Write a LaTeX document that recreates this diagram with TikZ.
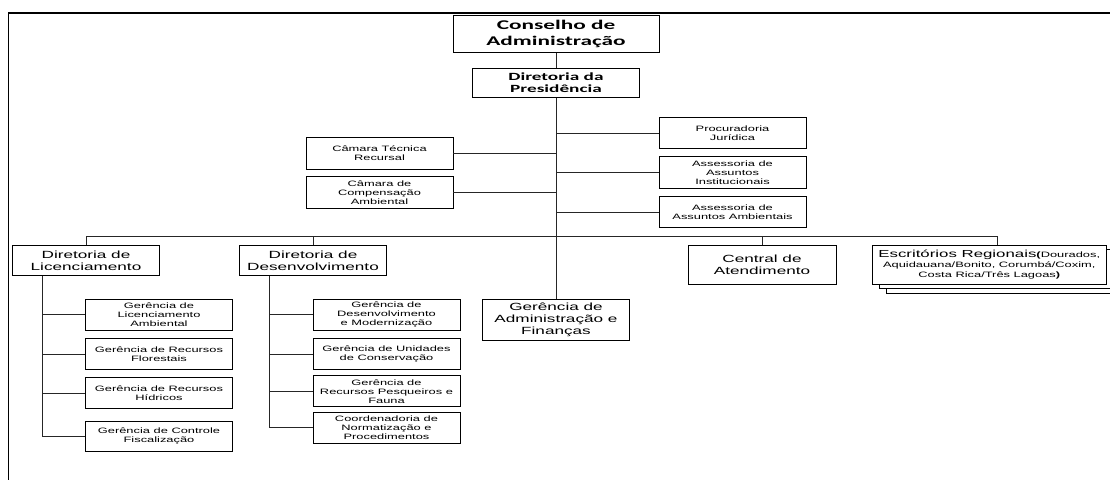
\documentclass[tikz,border=0pt]{standalone}
\usepackage{fontspec}
\setmainfont{Liberation Sans}[FakeStretch=1.65]
\newfontfamily\titlefont{Carlito}[FakeStretch=1.75]
\begin{document}
\begin{tikzpicture}[x=1pt,y=-1pt]
\tikzset{
  box/.style={draw=black, line width=0.9pt, fill=white, align=center, inner sep=1pt, text=black},
  sbox/.style={box, minimum width=147pt, minimum height=31pt, font=\fontsize{7.8}{9}\selectfont},
  mbox/.style={box, minimum width=147pt, font=\fontsize{10.4}{12}\selectfont},
  tbox/.style={box, font=\titlefont\bfseries},
  conn/.style={line width=0.8pt, draw=black!85},
}
\useasboundingbox (0,0) rectangle (1110,479);
\clip (0,0) rectangle (1110,479);
% frame
\draw[line width=1.5pt] (8.5,481) -- (8.5,13) -- (1112,13);

% top
\node[tbox, minimum width=206pt, minimum height=37pt, font=\titlefont\bfseries\fontsize{13.3}{16}\selectfont] (cons) at (556,34) {Conselho de\\Administração};
\node[tbox, minimum width=166.5pt, minimum height=29.5pt, font=\titlefont\bfseries\fontsize{11}{12.3}\selectfont] (pres) at (556,83) {Diretoria da\\Presidência};

% staff
\node[sbox, minimum height=31.6pt] (camT) at (379.5,153.5) {Câmara Técnica\\Recursal};
\node[sbox, minimum height=31.6pt] (camC) at (379.5,192.5) {Câmara de\\Compensação\\Ambiental};
\node[sbox] (proc) at (732.5,133.2) {Procuradoria\\Jurídica};
\node[sbox, minimum height=31.6pt] (aai) at (732.5,172.5) {Assessoria de\\Assuntos\\Institucionais};
\node[sbox, minimum height=31.6pt] (aaa) at (732.5,211.9) {Assessoria de\\Assuntos Ambientais};

% directorates
\node[mbox, minimum height=29.3pt] (dlic) at (86,260.4) {Diretoria de\\Licenciamento};
\node[mbox, minimum height=29.3pt] (ddes) at (313,260.4) {Diretoria de\\Desenvolvimento};
\node[mbox, minimum height=40.7pt] (gadm) at (556,319.7) {Gerência de\\Administração e\\Finanças};
\node[mbox, minimum width=148pt, minimum height=38.3pt] (cent) at (762,264.9) {Central de\\Atendimento};

% regional offices (stacked)
\node[box, minimum width=233.5pt, minimum height=39pt] (escrC) at (1003.25,273.5) {};
\node[box, minimum width=233.5pt, minimum height=39pt] (escrB) at (996.25,269) {};
\node[box, minimum width=233.5pt, minimum height=39pt, font=\fontsize{7.8}{10}\selectfont] (escr) at (989.25,264.5)
  {{\fontsize{10.2}{10}\selectfont Escritórios Regionais}\textbf{(}Dourados,\\Aquidauana/Bonito, Corumbá/Coxim,\\Costa Rica/Três Lagoas\textbf{)}};

% licenciamento subunits
\node[sbox, minimum height=30.7pt] (gl1) at (159,314.7) {Gerência de\\Licenciamento\\Ambiental};
\node[sbox, minimum height=30.6pt] (gl2) at (159,354) {Gerência de Recursos\\Florestais};
\node[sbox, minimum height=30.6pt] (gl3) at (159,393) {Gerência de Recursos\\Hídricos};
\node[sbox, minimum height=30.7pt] (gl4) at (159,436.4) {Gerência de Controle\\Fiscalização};

% desenvolvimento subunits
\node[sbox, minimum height=30.7pt] (gd1) at (386.5,314.7) {Gerência de\\Desenvolvimento\\e Modernização};
\node[sbox, minimum height=30.6pt] (gd2) at (386.5,354) {Gerência de Unidades\\de Conservação};
\node[sbox, minimum height=31pt] (gd3) at (386.5,391.2) {Gerência de\\Recursos Pesqueiros e\\Fauna};
\node[sbox, minimum height=31pt] (gd4) at (386.5,427.8) {Coordenadoria de\\Normatização e\\Procedimentos};

% connectors
\draw[conn] (cons.south) -- (pres.north);
\draw[conn] (pres.south) -- (gadm.north);
\draw[conn] (camT.east) -- (camT.east -| pres.south);
\draw[conn] (camC.east) -- (camC.east -| pres.south);
\draw[conn] (proc.west) -- (proc.west -| pres.south);
\draw[conn] (aai.west) -- (aai.west -| pres.south);
\draw[conn] (aaa.west) -- (aaa.west -| pres.south);

\coordinate (bus) at (0,236.5);
\coordinate (escrdrop) at (997,236.5);
\draw[conn] (dlic.north) -- (dlic.north |- bus) -- (escrdrop) -- (escrdrop |- escr.north);
\draw[conn] (ddes.north) -- (ddes.north |- bus);
\draw[conn] (cent.north) -- (cent.north |- bus);

\coordinate (licv) at (42,0);
\draw[conn] (licv |- dlic.south) -- (licv |- gl4.west);
\foreach \n in {gl1,gl2,gl3,gl4} \draw[conn] (\n.west) -- (\n.west -| licv);

\coordinate (desv) at (269,0);
\draw[conn] (desv |- ddes.south) -- (desv |- gd4.west);
\foreach \n in {gd1,gd2,gd3,gd4} \draw[conn] (\n.west) -- (\n.west -| desv);
\end{tikzpicture}
\end{document}
